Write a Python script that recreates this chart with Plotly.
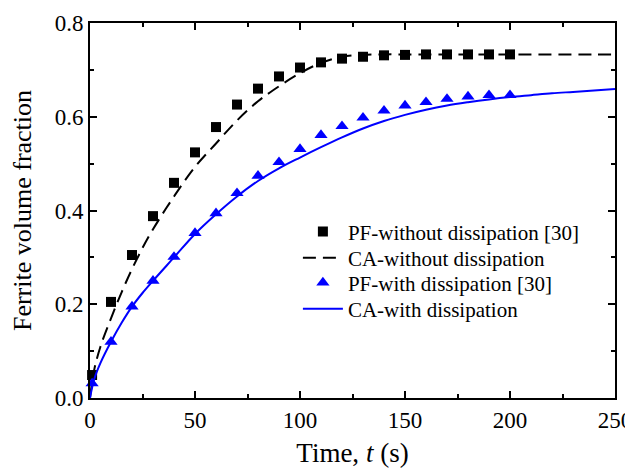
import plotly.graph_objects as go

# PF reference data (markers)
pf_t = [1, 10, 20, 30, 40, 50, 60, 70, 80, 90, 100, 110, 120, 130, 140, 150, 160, 170, 180, 190, 200]
pf_without = [0.049, 0.205, 0.305, 0.388, 0.459, 0.524, 0.578, 0.626, 0.660, 0.686, 0.705, 0.716, 0.724, 0.728,
              0.731, 0.732, 0.733, 0.733, 0.733, 0.733, 0.733]
pf_with = [0.031, 0.120, 0.195, 0.250, 0.301, 0.352, 0.394, 0.437, 0.474, 0.503, 0.531, 0.561, 0.580, 0.598,
           0.613, 0.624, 0.631, 0.638, 0.643, 0.646, 0.646]

# CA curves
ca_t = [0, 2, 5, 10, 15, 20, 25, 30, 40, 50, 60, 70, 80, 90, 100, 110, 120, 130, 140, 150,
        160, 170, 180, 190, 200, 210, 220, 230, 240, 250]
ca_without = [0.0, 0.06, 0.11, 0.17, 0.225, 0.275, 0.32, 0.36, 0.43, 0.493, 0.543, 0.592, 0.633, 0.665, 0.693,
              0.715, 0.728, 0.732, 0.733, 0.733, 0.733, 0.733, 0.733, 0.733, 0.733, 0.733, 0.733, 0.733,
              0.733, 0.733]
ca_with = [0.0, 0.04, 0.075, 0.12, 0.16, 0.195, 0.224, 0.25, 0.30, 0.35, 0.392, 0.43, 0.463, 0.49, 0.513,
           0.535, 0.556, 0.575, 0.591, 0.604, 0.615, 0.624, 0.631, 0.637, 0.642, 0.646, 0.650, 0.653, 0.656, 0.659]

serif = "Liberation Serif, Times New Roman, serif"

fig = go.Figure()
fig.add_trace(go.Scatter(x=pf_t, y=pf_without, mode="markers", name="PF-without dissipation [30]",
                         marker=dict(symbol="square", size=10, color="black"), cliponaxis=False,
                         legend="legend"))
fig.add_trace(go.Scatter(x=ca_t, y=ca_without, mode="lines", name="CA-without dissipation",
                         line=dict(color="black", width=2, dash="13px,7px", shape="spline"),
                         legend="legend2"))
fig.add_trace(go.Scatter(x=pf_t, y=pf_with, mode="markers", name="PF-with dissipation [30]",
                         marker=dict(symbol="triangle-up", size=11.5, color="#0000ff"), cliponaxis=False,
                         legend="legend3"))
fig.add_trace(go.Scatter(x=ca_t, y=ca_with, mode="lines", name="CA-with dissipation",
                         line=dict(color="#0000ff", width=2, shape="spline"),
                         legend="legend4"))

axis_common = dict(showline=True, linewidth=2, linecolor="black", mirror="ticks", ticks="inside",
                   ticklen=7, tickwidth=2, tickcolor="black", showgrid=False, zeroline=False,
                   automargin=False, tickfont=dict(family=serif, size=23, color="black"))

fig.update_xaxes(range=[0, 250], dtick=50, tick0=0,
                 minor=dict(ticks="inside", ticklen=4, tickwidth=2, dtick=25, tickcolor="black"),
                 title=dict(text="Time, <i>t</i> (s)", font=dict(family=serif, size=27, color="black"), standoff=15),
                 **axis_common)
fig.update_yaxes(range=[0, 0.8], dtick=0.2, tick0=0, tickformat=".1f",
                 minor=dict(ticks="inside", ticklen=4, tickwidth=2, dtick=0.1, tickcolor="black"),
                 title=dict(text="Ferrite volume fraction", font=dict(family=serif, size=26, color="black"), standoff=17),
                 **axis_common)

# one legend per row so the row spacing can follow the reference
leg_x = 0.396
leg_rows = [0.443, 0.373, 0.307, 0.237]
leg_font = dict(family=serif, size=21, color="black")
legends = {}
for i, yy in enumerate(leg_rows):
    key = "legend" if i == 0 else f"legend{i + 1}"
    legends[key] = dict(x=leg_x, y=yy, xanchor="left", yanchor="middle", bgcolor="rgba(0,0,0,0)",
                        font=leg_font, itemwidth=40)

# page body has an 8px margin, so the figure is sized to fit the window
fig.update_layout(
    width=625, height=460,
    margin=dict(l=82, r=18, t=15, b=70),
    paper_bgcolor="white", plot_bgcolor="white",
    showlegend=True,
    **legends,
)

fig.write_html("out.html")
